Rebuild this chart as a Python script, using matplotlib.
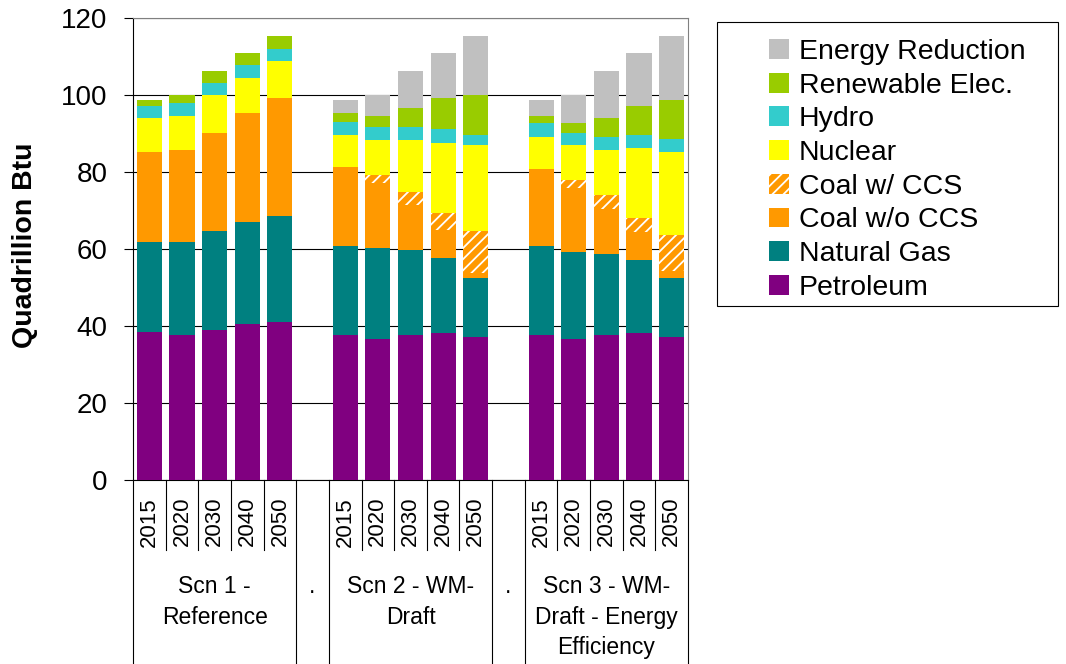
import numpy as np
import matplotlib
matplotlib.use('Agg')
import matplotlib.pyplot as plt
from matplotlib.patches import Rectangle
from matplotlib.transforms import blended_transform_factory

plt.rcParams['font.family'] = ['Liberation Sans', 'DejaVu Sans']
plt.rcParams['hatch.linewidth'] = 1.3

# Primary energy by source, quadrillion Btu (3 scenarios x 5 years)
years = ['2015', '2020', '2030', '2040', '2050']
scenarios = ['Scn 1 -\nReference', 'Scn 2 - WM-\nDraft', 'Scn 3 - WM-\nDraft - Energy\nEfficiency']

petroleum = [38.3, 37.7, 39.0, 40.5, 41.0, 37.7, 36.6, 37.7, 38.2, 37.1, 37.7, 36.6, 37.7, 38.2, 37.1]
natural_gas = [23.5, 24.1, 25.7, 26.5, 27.6, 23.1, 23.7, 22.0, 19.5, 15.4, 23.1, 22.6, 21.0, 18.9, 15.4]
coal_no_ccs = [23.4, 23.9, 25.4, 28.1, 30.4, 20.5, 16.8, 11.7, 7.2, 1.3, 20.0, 16.6, 11.7, 7.3, 1.8]
coal_ccs = [0, 0, 0, 0, 0, 0, 2.1, 3.4, 4.5, 10.9, 0, 2.1, 3.6, 3.7, 9.3]
nuclear = [8.8, 8.8, 9.9, 9.3, 9.8, 8.3, 8.9, 13.3, 18.1, 22.1, 8.3, 8.9, 11.7, 18.1, 21.6]
hydro = [3.1, 3.4, 2.9, 3.4, 2.9, 3.4, 3.6, 3.6, 3.7, 2.8, 3.4, 3.3, 3.4, 3.4, 3.4]
renewable = [1.6, 2.0, 3.1, 3.1, 3.6, 2.1, 2.8, 4.9, 7.8, 10.4, 2.0, 2.4, 4.9, 7.5, 10.1]
energy_reduction = [0, 0, 0, 0, 0, 3.6, 5.4, 9.4, 11.9, 15.3, 4.2, 7.4, 12.0, 13.8, 16.6]

series = [
    ('Petroleum', petroleum, '#800080', None),
    ('Natural Gas', natural_gas, '#008080', None),
    ('Coal w/o CCS', coal_no_ccs, '#FF9900', None),
    ('Coal w/ CCS', coal_ccs, '#FF9900', '///'),
    ('Nuclear', nuclear, '#FFFF00', None),
    ('Hydro', hydro, '#33CCCC', None),
    ('Renewable Elec.', renewable, '#99CC00', None),
    ('Energy Reduction', energy_reduction, '#C0C0C0', None),
]

W, H = 1066, 664
fig = plt.figure(figsize=(W / 100, H / 100), dpi=100)
ax = fig.add_axes([133 / W, 1 - 480 / H, 555 / W, 462.5 / H])

# one empty slot between scenario groups
nyear = len(years)
x = np.array([g * (nyear + 1) + i for g in range(len(scenarios)) for i in range(nyear)])
nslot = len(scenarios) * (nyear + 1) - 1

bottom = np.zeros(len(x))
handles = []
for name, vals, color, hatch in series:
    vals = np.array(vals, dtype=float)
    if hatch:
        b = ax.bar(x, vals, 0.77, bottom=bottom, color=color, edgecolor='white',
                   hatch=hatch, linewidth=0, label=name, zorder=3)
    else:
        b = ax.bar(x, vals, 0.77, bottom=bottom, color=color, linewidth=0,
                   label=name, zorder=3)
    handles.append(b)
    bottom += vals

ax.set_xlim(-0.5, nslot - 0.5)
ax.set_ylim(0, 120)
ax.set_yticks(np.arange(0, 121, 20))
ax.tick_params(axis='y', labelsize=20, length=6.5, width=0.8, pad=12)
ax.set_xticks([])
ax.yaxis.grid(True, color='black', linewidth=0.8, zorder=0)
ax.set_axisbelow(True)
for s in ['top', 'right']:
    ax.spines[s].set_color('#808080')
for s in ['left', 'bottom']:
    ax.spines[s].set_color('black')
    ax.spines[s].set_linewidth(0.8)

# multi-level category axis drawn below the plot
trans = blended_transform_factory(ax.transData, ax.transAxes)
px = 1 / 462.5
group_edges = set()
for g in range(len(scenarios)):
    start = g * (nyear + 1) - 0.5
    group_edges.update([start, start + nyear])
    if g < len(scenarios) - 1:
        group_edges.add(start + nyear + 1)
for b in np.arange(-0.5, nslot, 1.0):
    y_end = -184 * px if b in group_edges else -70 * px
    ax.plot([b, b], [0, y_end], color='black', linewidth=0.8,
            transform=trans, clip_on=False)

for xi, lab in zip(x, years * len(scenarios)):
    ax.text(xi, -17 * px, lab, rotation=90, ha='center', va='top',
            fontsize=16, transform=trans)

for g, lab in enumerate(scenarios):
    xc = g * (nyear + 1) + (nyear - 1) / 2
    ax.text(xc, -95 * px, lab, ha='center', va='top', fontsize=16.5,
            linespacing=1.42, transform=trans)
    if g < len(scenarios) - 1:
        ax.text(g * (nyear + 1) + nyear, -95 * px, '.', ha='center', va='top',
                fontsize=16.5, transform=trans)

fig.text(25 / W, 1 - 245 / H, 'Quadrillion Btu', rotation=90, ha='center',
         va='center', fontsize=20.5, fontweight='bold')

# legend box
fig.patches.append(Rectangle((717 / W, 1 - 306 / H), 341 / W, 284 / H,
                             transform=fig.transFigure, facecolor='white',
                             edgecolor='black', linewidth=0.8))
fig.legend(handles[::-1], [s[0] for s in series][::-1], loc='upper left',
           bbox_to_anchor=(769 / W, 1 - 39 / H), frameon=False, fontsize=20.5,
           handlelength=0.7, handleheight=0.7, handletextpad=0.35,
           labelspacing=0.27, borderpad=0, borderaxespad=0)

fig.savefig('out.png', dpi=100)
